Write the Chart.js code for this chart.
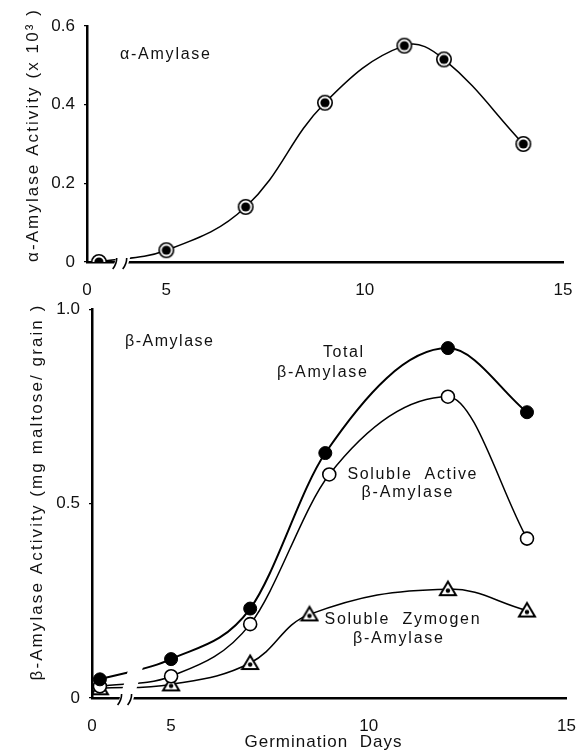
<!DOCTYPE html>
<html><head><meta charset="utf-8">
<script src="https://cdn.jsdelivr.net/npm/chart.js@4.4.0/dist/chart.umd.min.js"></script>
<style>
html,body{margin:0;padding:0;background:#fff;overflow:hidden;}
#top{position:absolute;left:0;top:0;}
#bot{position:absolute;left:0;top:290px;}
</style></head><body>
<canvas id="top" width="586" height="302"></canvas>
<canvas id="bot" width="586" height="461"></canvas>
<script>
// ---- data ----
const alphaDays = [0.3, 5, 7, 9, 11, 12, 14];
const alphaActivity = [0.0, 0.03, 0.14, 0.405, 0.55, 0.515, 0.30];

const totalDays = [0.2, 5, 7, 8.9, 12, 14];
const totalBeta = [0.048, 0.10, 0.23, 0.63, 0.90, 0.735];

const activeDays = [0.2, 5, 7, 9, 12, 14];
const activeBeta = [0.03, 0.056, 0.19, 0.575, 0.775, 0.41];

const zymogenDays = [0.2, 5, 7, 8.5, 12, 14];
const zymogenBeta = [0.025, 0.035, 0.09, 0.215, 0.28, 0.225];

const dayTicks = [0, 5, 10, 15];
const alphaTicks = [0, 0.2, 0.4, 0.6];
const betaTicks = [0, 0.5, 1.0];

// ---- broken x axis (days 0.85..3.85 removed) ----
const BRK_A = 0.85, BRK_GAP = 3;
function compress(v){ if(v<=BRK_A) return v; if(v>=BRK_A+BRK_GAP) return v-BRK_GAP; return BRK_A; }
function expand(c){ return c<=BRK_A ? c : c+BRK_GAP; }
class BrokenAxis extends Chart.LinearScale {
  configure(){ super.configure(); const a=compress(this.min), b=compress(this.max); this._startValue=a; this._valueRange=b-a; }
  getPixelForValue(v){ return v===null?NaN:super.getPixelForValue(compress(v)); }
  getValueForPixel(p){ return expand(super.getValueForPixel(p)); }
}
BrokenAxis.id = 'brokenLinear';
BrokenAxis.defaults = Chart.LinearScale.defaults;
Chart.register(BrokenAxis);

const FAM = '"Liberation Sans", Arial, sans-serif';
const INK = '#111';

function mk(size, draw){ const c=document.createElement('canvas'); c.width=c.height=size; const g=c.getContext('2d'); draw(g,size/2); return c; }
const dblCircle = mk(18,(g,m)=>{ g.beginPath(); g.arc(m,m,7.2,0,2*Math.PI); g.fillStyle='#fff'; g.fill(); g.lineWidth=1.6; g.strokeStyle='#000'; g.stroke(); g.beginPath(); g.arc(m,m,4.6,0,2*Math.PI); g.fillStyle='#000'; g.fill(); });
const triDot = mk(20,(g,m)=>{ g.beginPath(); g.moveTo(m,m-7.5); g.lineTo(m-8,m+6); g.lineTo(m+8,m+6); g.closePath(); g.fillStyle='#fff'; g.fill(); g.lineWidth=2; g.strokeStyle='#000'; g.lineJoin='miter'; g.stroke(); g.beginPath(); g.arc(m,m+1.5,2.2,0,2*Math.PI); g.fillStyle='#000'; g.fill(); });

const pts = (xs, ys) => xs.map((x,i)=>({x, y: ys[i]}));

function breakPlugin(h){ return { id:'axisBreak', afterDatasetsDraw(chart){
  const x=chart.scales.x, y=chart.scales.y, ctx=chart.ctx;
  const px=x.getPixelForValue(BRK_A), yb=y.bottom;
  ctx.save();
  ctx.fillStyle='#fff'; ctx.beginPath();
  ctx.moveTo(px-8, yb+7); ctx.lineTo(px-8+ (h+7)*0.3, yb-h); ctx.lineTo(px+6+(h+7)*0.3, yb-h); ctx.lineTo(px+6, yb+7); ctx.closePath(); ctx.fill();
  ctx.strokeStyle='#000'; ctx.lineWidth=1.6; ctx.beginPath();
  ctx.moveTo(px-8, yb+7); ctx.quadraticCurveTo(px-4, yb+2, px-4, yb-4);
  ctx.moveTo(px+2, yb+7); ctx.quadraticCurveTo(px+6, yb+2, px+6, yb-4);
  ctx.stroke(); ctx.restore(); } }; }

// draw text spread to a given width (the original is letter-spaced)
function spreadText(ctx, t, cx, cy, w, size, rot){
  ctx.save();
  ctx.font = size+'px '+FAM; ctx.fillStyle=INK; ctx.textBaseline='middle'; ctx.textAlign='left';
  ctx.letterSpacing='0px';
  const base = ctx.measureText(t).width;
  const n = [...t].length;
  const sp = Math.max(0,(w-base)/(n-1));
  ctx.letterSpacing = sp.toFixed(2)+'px';
  ctx.translate(cx, cy); if(rot) ctx.rotate(rot);
  ctx.fillText(t, -w/2, 0);
  ctx.restore();
}
function textPlugin(items){ return { id:'notes', afterDraw(chart){
  const ctx=chart.ctx;
  items.forEach(it=> spreadText(ctx, it.t, it.cx, it.cy, it.w, it.s||16, it.r||0));
} }; }

function xScale(h){ return {
  type:'brokenLinear', min:0, max:15,
  afterBuildTicks: s=>{ s.ticks = dayTicks.map(v=>({value:v})); },
  afterFit: s=>{ s.height=h; },
  grid:{display:false}, border:{display:true,color:'#000',width:2.5},
  ticks:{color:INK, font:{family:FAM,size:17}, padding:10, maxRotation:0, autoSkip:false, callback:v=>String(v)},
  title:{display:false}
}; }
function yScale(w, max, ticks){ return {
  type:'linear', min:0, max:max,
  afterBuildTicks: s=>{ s.ticks = ticks.map(v=>({value:v})); },
  afterFit: s=>{ s.width=w; },
  grid:{display:true, drawOnChartArea:false, tickLength:3, color:'#000', lineWidth:1.2},
  border:{display:true,color:'#000',width:2.5},
  ticks:{color:INK, font:{family:FAM,size:17}, padding:9, autoSkip:false, callback:v=> v===0?'0':v.toFixed(1)},
  title:{display:false}
}; }

const common = { responsive:false, animation:false, devicePixelRatio:1,
  plugins:{legend:{display:false}, tooltip:{enabled:false}}, events:[] };

new Chart(document.getElementById('top'), {
  type:'line',
  data:{ datasets:[{ data: pts(alphaDays, alphaActivity), borderColor:'#000', borderWidth:1.5, tension:0.4, fill:false,
    pointStyle: dblCircle, pointRadius:7 }]},
  options: Object.assign({}, common, {
    layout:{padding:{left:20,right:23,top:26,bottom:0}},
    scales:{ x: xScale(40), y: yScale(67, 0.6, alphaTicks) }
  }),
  plugins:[breakPlugin(10), textPlugin([
    {t:'α-Amylase', cx:165, cy:55, w:90, s:16},
    {t:'α-Amylase Activity (x 10³ )', cx:33, cy:136, w:252, s:17, r:-Math.PI/2}
  ])]
});

new Chart(document.getElementById('bot'), {
  type:'line',
  data:{ datasets:[
    { data: pts(totalDays, totalBeta), borderColor:'#000', borderWidth:2, cubicInterpolationMode:'monotone', fill:false,
      pointStyle:'circle', pointRadius:6.5, pointBackgroundColor:'#000', pointBorderColor:'#000', pointBorderWidth:1 },
    { data: pts(activeDays, activeBeta), borderColor:'#000', borderWidth:1.5, cubicInterpolationMode:'monotone', fill:false,
      pointStyle:'circle', pointRadius:6.5, pointBackgroundColor:'#fff', pointBorderColor:'#000', pointBorderWidth:1.6 },
    { data: pts(zymogenDays, zymogenBeta), borderColor:'#000', borderWidth:1.5, tension:0.4, fill:false,
      pointStyle: triDot, pointRadius:8 }
  ]},
  options: Object.assign({}, common, {
    layout:{padding:{left:23,right:13,top:15,bottom:0}},
    scales:{ x: xScale(53), y: yScale(69, 1.0, betaTicks) }
  }),
  plugins:[breakPlugin(36), textPlugin([
    {t:'β-Amylase', cx:169, cy:52, w:88},
    {t:'Total', cx:343, cy:63, w:40},
    {t:'β-Amylase', cx:322, cy:83, w:90},
    {t:'Soluble  Active', cx:412, cy:185, w:129},
    {t:'β-Amylase', cx:407, cy:203, w:91},
    {t:'Soluble  Zymogen', cx:402, cy:330, w:155},
    {t:'β-Amylase', cx:398, cy:349, w:90},
    {t:'Germination  Days', cx:323, cy:452, w:157, s:17},
    {t:'β-Amylase Activity (mg maltose/ grain )', cx:37, cy:203, w:375, s:17, r:-Math.PI/2}
  ])]
});
</script>
</body></html>
